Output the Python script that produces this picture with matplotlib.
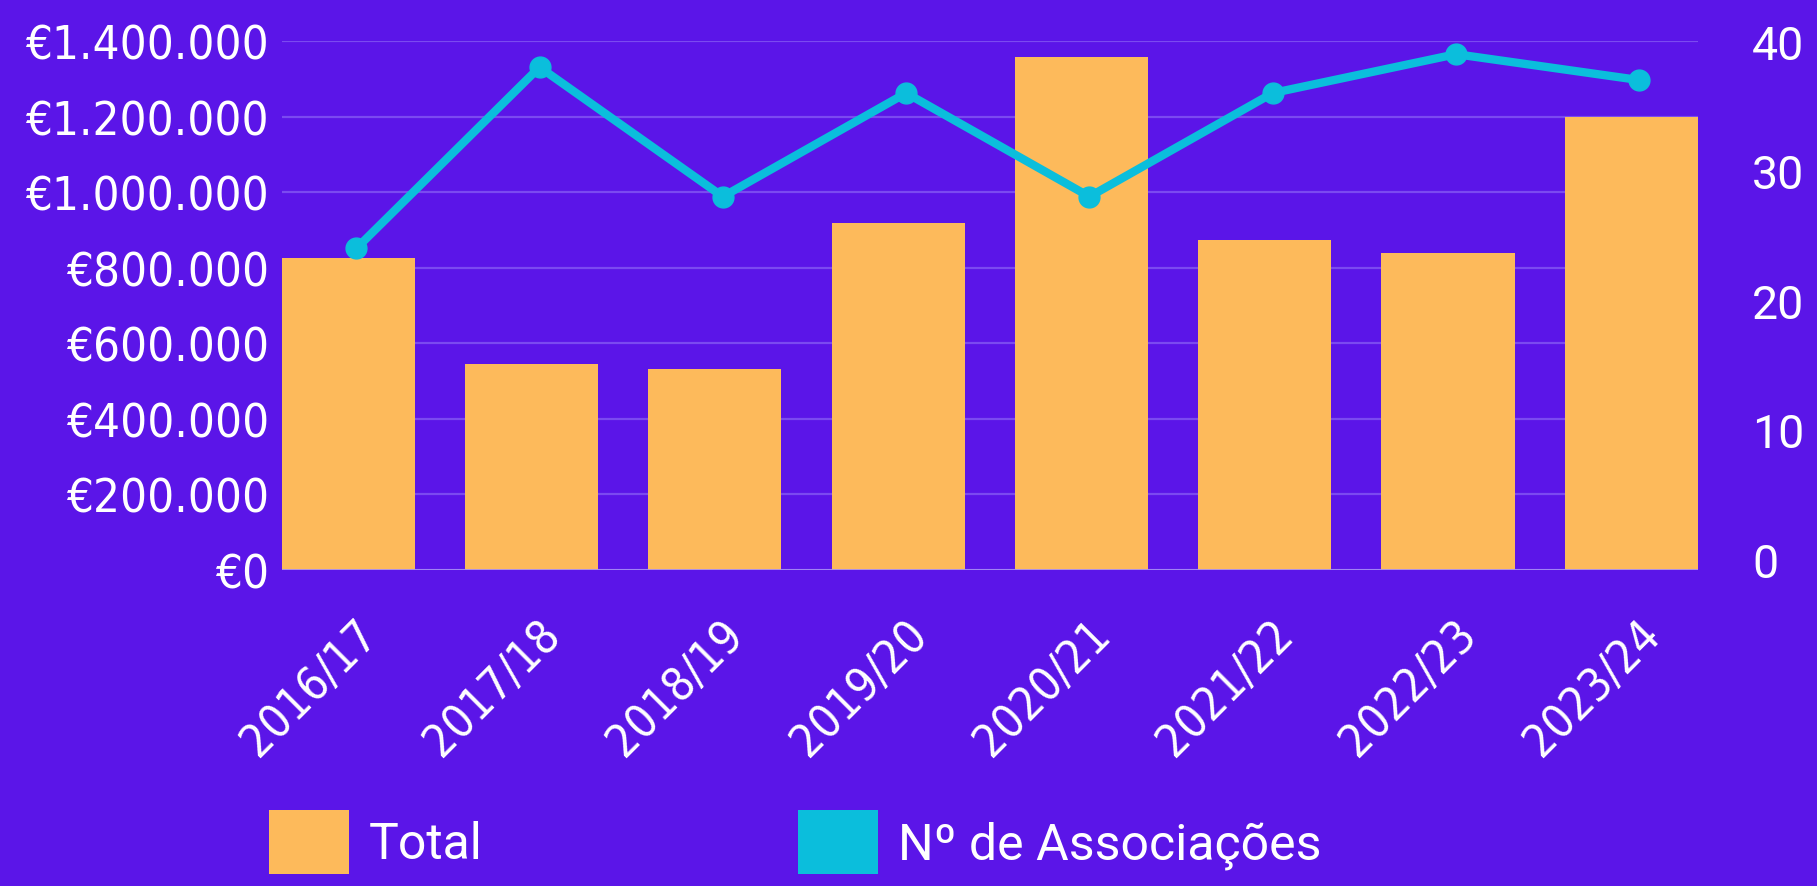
import matplotlib
matplotlib.use('Agg')
import matplotlib.pyplot as plt
from matplotlib.patches import Patch
from matplotlib.transforms import ScaledTranslation
from matplotlib import font_manager
import numpy as np

# data
years = ['2016/17', '2017/18', '2018/19', '2019/20', '2020/21', '2021/22', '2022/23', '2023/24']
total = [825000, 545000, 532000, 918000, 1357000, 874000, 838000, 1200000]
associacoes = [24, 38, 28, 36, 28, 36, 39, 37]
left_ticks = [0, 200000, 400000, 600000, 800000, 1000000, 1200000, 1400000]
right_ticks = [0, 10, 20, 30, 40]

bg = '#5b15e8'
bar_color = '#fdba5b'
line_color = '#0bbedc'
grid_color = '#7b4af0'

names = {f.name for f in font_manager.fontManager.ttflist}
plain = 'Roboto' if 'Roboto' in names else 'DejaVu Sans'


def euro(v):
    return '€' + f'{int(v):,}'.replace(',', '.')


fig = plt.figure(figsize=(18.17, 8.87), dpi=100, facecolor=bg)
ax = fig.add_axes([0.155, 0.3566, 0.7795, 0.5958])
ax.set_facecolor(bg)

x = np.arange(len(years))
width = 0.727
ax.bar(x, total, width=width, color=bar_color, zorder=2)
ax.set_xlim(-width / 2, len(years) - 1 + width / 2)
ax.set_ylim(0, 1400000)
ax.set_yticks(left_ticks)
ax.set_yticklabels([euro(v) for v in left_ticks], family='DejaVu Sans',
                   fontstretch='condensed', fontsize=34, color='white')
ax.grid(axis='y', color=grid_color, linewidth=1.6, zorder=0)
ax.axhline(0, color='#a68cf5', linewidth=2, zorder=3)
for s in ax.spines.values():
    s.set_visible(False)
ax.tick_params(axis='y', length=0, pad=9)
ax.set_xticks(x)
ax.set_xticklabels(years, rotation=45, ha='right', va='top', rotation_mode='anchor',
                   family='DejaVu Sans', fontstretch='condensed', fontsize=33, color='white')
ax.tick_params(axis='x', length=0, pad=30)
for lbl in ax.get_xticklabels():
    lbl.set_transform(lbl.get_transform() + ScaledTranslation(0.06, 0, fig.dpi_scale_trans))

ax2 = ax.twinx()
shift = ax2.transData + ScaledTranslation(0.08, 0, fig.dpi_scale_trans)
ax2.plot(x, associacoes, color=line_color, linewidth=6, marker='o', markersize=15,
         solid_capstyle='round', zorder=4, transform=shift)
ax2.set_ylim(-0.8, 40)
ax2.set_yticks(right_ticks)
ax2.set_yticklabels([str(v) for v in right_ticks], family=plain, fontsize=33.5, color='white')
ax2.tick_params(axis='y', length=0, pad=39)
for s in ax2.spines.values():
    s.set_visible(False)

handles = [Patch(facecolor=bar_color, edgecolor='none'),
           Patch(facecolor=line_color, edgecolor='none')]
leg = fig.legend(handles, ['Total', 'Nº de Associações'], loc='upper left',
                 bbox_to_anchor=(269 / 1817, 1 - 811 / 887), ncol=2, frameon=False,
                 prop={'family': plain, 'size': 36}, labelcolor='white',
                 handlelength=1.6, handleheight=1.6, handletextpad=0.4,
                 columnspacing=6.3, borderpad=0, borderaxespad=0)

fig.savefig('out.png', dpi=100, facecolor=bg)
